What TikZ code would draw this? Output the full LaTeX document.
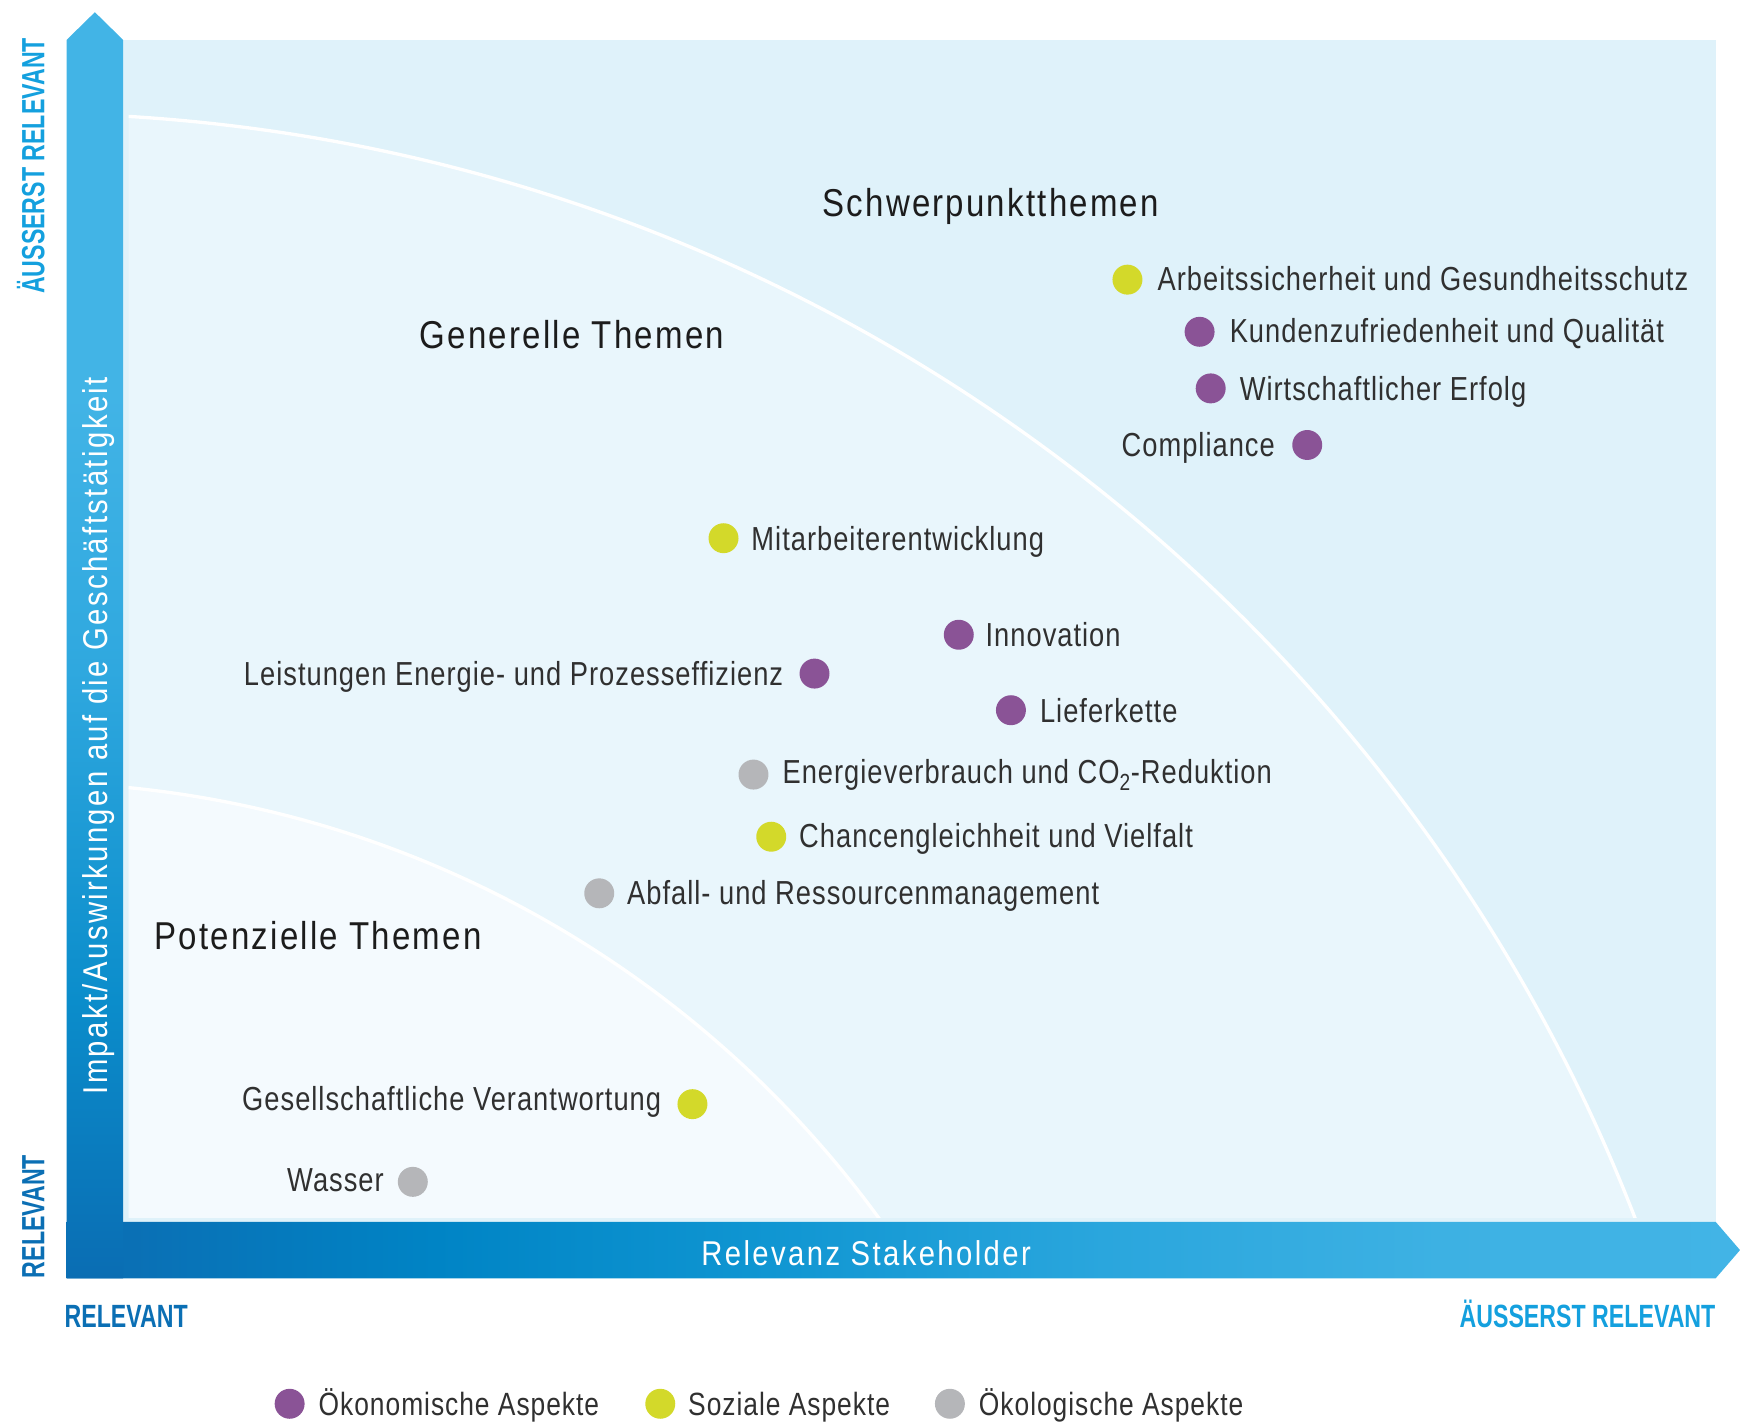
\documentclass[tikz,border=0pt]{standalone}
\usepackage{fontspec}
\setmainfont{Liberation Sans}[FakeStretch=0.82,LetterSpace=3]
\newfontfamily\ttlfont{Liberation Sans}[FakeStretch=0.85,LetterSpace=5.7]
\newfontfamily\barfont{Liberation Sans}[FakeStretch=0.85,LetterSpace=7]
\newfontfamily\axfont{Liberation Sans}[FakeStretch=0.72]
\definecolor{bgout}{HTML}{DFF2FA}
\definecolor{bggen}{HTML}{E9F6FC}
\definecolor{bgpot}{HTML}{F4FAFE}
\definecolor{purp}{HTML}{8A5396}
\definecolor{ygrn}{HTML}{D3D92A}
\definecolor{gry}{HTML}{B5B6B9}
\definecolor{txt}{HTML}{303030}
\definecolor{ttlcol}{HTML}{1C1C1C}
\definecolor{lblue}{HTML}{14A0DE}
\definecolor{dblue}{HTML}{0B6FB4}
\definecolor{va}{HTML}{0A6DB3}
\definecolor{vb}{HTML}{0B8DCB}
\definecolor{vc}{HTML}{2FA8DF}
\definecolor{vd}{HTML}{42B4E6}
\definecolor{ha}{HTML}{0A70B5}
\definecolor{hb}{HTML}{0084C5}
\definecolor{hc}{HTML}{1096D2}
\definecolor{hd}{HTML}{2AA6DD}
\definecolor{he}{HTML}{3DB1E3}
\pgfdeclareverticalshading{vbarshade}{100bp}{color(0bp)=(va); color(25bp)=(va); color(36bp)=(vb); color(49bp)=(vc); color(60bp)=(vd); color(100bp)=(vd)}
\pgfdeclarehorizontalshading{hbarshade}{100bp}{color(0bp)=(ha); color(25bp)=(ha); color(27bp)=(ha); color(36bp)=(hb); color(46bp)=(hc); color(56bp)=(hd); color(66bp)=(he); color(75bp)=(vd); color(100bp)=(vd)}
\tikzset{
  dot/.style={circle, minimum size=27pt, inner sep=0pt, draw=none},
  lbl/.style={text=txt, font=\fontsize{30}{32}\selectfont, inner sep=0pt},
  lgd/.style={text=txt, font=\fontsize{29}{31}\selectfont, inner sep=0pt},
  ttl/.style={text=ttlcol, font=\ttlfont\fontsize{35}{37}\selectfont, inner sep=0pt},
  barlbl/.style={text=white, font=\barfont\fontsize{31}{33}\selectfont, inner sep=0pt},
  axlbl/.style={font=\axfont\bfseries\fontsize{29}{31}\selectfont, inner sep=0pt},
  sep/.style={draw=white, line width=3pt}
}
\begin{document}
\begin{tikzpicture}[x=1pt,y=-1pt]
\useasboundingbox (0,0) rectangle (1568,1282);
% background field
\fill[bgout] (111,36) rectangle (1546,1101);
\begin{scope}
  \clip (116,36) rectangle (1546,1097);
  \fill[bggen] (20,1660) circle[radius=1558pt];
  \draw[sep] (20,1660) circle[radius=1558pt];
  \fill[bgpot] (20,1660) circle[radius=955pt];
  \draw[sep] (20,1660) circle[radius=955pt];
\end{scope}
% axes
\path[shading=hbarshade] (60,1101) -- (1546,1101) -- (1568,1126.5) -- (1546,1152) -- (60,1152) -- cycle;
\path[shading=vbarshade] (60,1152) -- (60,36) -- (85.5,11) -- (111,36) -- (111,1152) -- cycle;
\node[barlbl, anchor=base] (xax) at (780.5,1140) {Relevanz Stakeholder};
\node[barlbl, anchor=base, rotate=90] (yax) at (97,663) {Impakt/Auswirkungen auf die Geschäftstätigkeit};
\node[axlbl, text=lblue, anchor=base west, rotate=90] (yhi) at (40,265) {ÄUSSERST RELEVANT};
\node[axlbl, text=dblue, anchor=base west, rotate=90] (ylo) at (40,1152) {RELEVANT};
\node[axlbl, text=dblue, anchor=base west] (xlo) at (58,1196) {RELEVANT};
\node[axlbl, text=lblue, anchor=base east] (xhi) at (1546,1196) {ÄUSSERST RELEVANT};
% titles
\node[ttl, anchor=base west] (t1) at (741,195) {Schwerpunktthemen};
\node[ttl, anchor=base west] (t2) at (378,314) {Generelle Themen};
\node[ttl, anchor=base west] (t3) at (139,856) {Potenzielle Themen};
% topics
\node[dot, fill=ygrn] (d1) at (1016,252) {};
\node[lbl, anchor=base west] (l1) at (1043,262) {Arbeitssicherheit und Gesundheitsschutz};
\node[dot, fill=purp] (d2) at (1081,299) {};
\node[lbl, anchor=base west] (l2) at (1108,309) {Kundenzufriedenheit und Qualität};
\node[dot, fill=purp] (d3) at (1091,350) {};
\node[lbl, anchor=base west] (l3) at (1117,361) {Wirtschaftlicher Erfolg};
\node[dot, fill=purp] (d4) at (1178,401) {};
\node[lbl, anchor=base east] (l4) at (1149,411) {Compliance};
\node[dot, fill=ygrn] (d5) at (652,485) {};
\node[lbl, anchor=base west] (l5) at (677,496) {Mitarbeiterentwicklung};
\node[dot, fill=purp] (d6) at (864,572) {};
\node[lbl, anchor=base west] (l6) at (888,583) {Innovation};
\node[dot, fill=purp] (d7) at (734,607) {};
\node[lbl, anchor=base east] (l7) at (706,618) {Leistungen Energie- und Prozesseffizienz};
\node[dot, fill=purp] (d8) at (911,640) {};
\node[lbl, anchor=base west] (l8) at (937,651) {Lieferkette};
\node[dot, fill=gry] (d9) at (679,698) {};
\node[lbl, anchor=base west] (l9) at (705,706) {Energieverbrauch und CO\textsubscript{2}-Reduktion};
\node[dot, fill=ygrn] (d10) at (695,754) {};
\node[lbl, anchor=base west] (l10) at (720,764) {Chancengleichheit und Vielfalt};
\node[dot, fill=gry] (d11) at (540,805) {};
\node[lbl, anchor=base west] (l11) at (565,815) {Abfall- und Ressourcenmanagement};
\node[dot, fill=ygrn] (d12) at (624,995) {};
\node[lbl, anchor=base east] (l12) at (596,1001) {Gesellschaftliche Verantwortung};
\node[dot, fill=gry] (d13) at (372,1065) {};
\node[lbl, anchor=base east] (l13) at (346,1074) {Wasser};
% legend
\node[dot, fill=purp] (g1) at (261,1265) {};
\node[lgd, anchor=base west] (gl1) at (287,1276) {Ökonomische Aspekte};
\node[dot, fill=ygrn] (g2) at (595,1265) {};
\node[lgd, anchor=base west] (gl2) at (620,1276) {Soziale Aspekte};
\node[dot, fill=gry] (g3) at (856,1265) {};
\node[lgd, anchor=base west] (gl3) at (882,1276) {Ökologische Aspekte};
\end{tikzpicture}
\end{document}
